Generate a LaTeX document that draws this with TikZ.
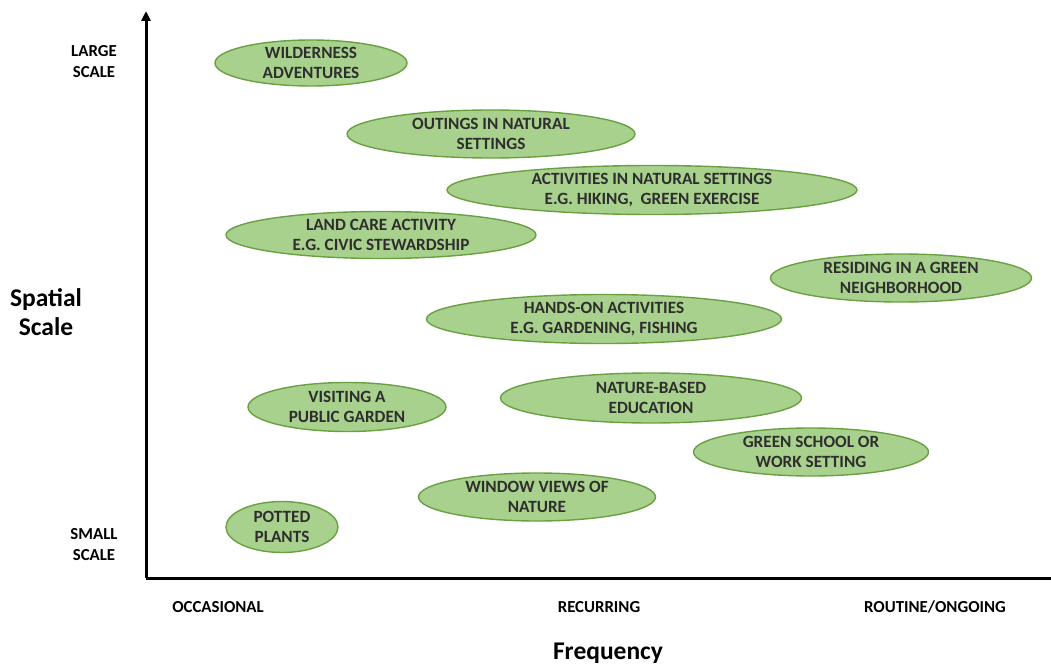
\documentclass[tikz,border=0pt]{standalone}
\usepackage{fontspec}
\setmainfont{Carlito}
\usetikzlibrary{shapes.geometric,arrows.meta}
\definecolor{blobfill}{HTML}{A9D18E}
\definecolor{blobline}{HTML}{6AA042}
\definecolor{blobtext}{HTML}{2E2E2E}
\tikzset{
  blob/.style={ellipse, draw=blobline, fill=blobfill, line width=1.4pt, inner sep=0pt},
  blobtxt/.style={align=center, text=blobtext, font=\fontsize{17.2}{20.5}\selectfont\bfseries, inner sep=0pt},
  axtxt/.style={align=center, text=black, font=\fontsize{16.8}{21}\selectfont\bfseries, inner sep=0pt},
  bigtxt/.style={align=center, text=black, font=\fontsize{25.5}{29}\selectfont\bfseries, inner sep=0pt},
  axis/.style={line width=3pt, black}
}
\begin{document}
\begin{tikzpicture}[x=1pt,y=-1pt]
\useasboundingbox (0,0) rectangle (1051,666);
% axes
\coordinate (O) at (146,578);
\coordinate (top) at (146,11);
\coordinate (right) at (1052,578);
\draw[axis, -{Triangle[length=10pt,width=9pt]}] (O) -- (top);
\draw[axis] (O) -- (right);
% axis labels
\node[axtxt] (large) at (94,62) {LARGE\\SCALE};
\node[axtxt] (small) at (94,545) {SMALL\\SCALE};
\node[bigtxt] (spatial) at (46,312) {Spatial\\Scale};
\node[axtxt] (occ) at (218,607) {OCCASIONAL};
\node[axtxt] (rec) at (599,607) {RECURRING};
\node[axtxt] (rout) at (935,607) {ROUTINE/ONGOING};
\node[bigtxt] (freq) at (608,653) {Frequency};
% ellipses
\node[blob, minimum width=192, minimum height=46] (e1) at (311,63) {};
\node[blobtxt] at (e1) {WILDERNESS\\ADVENTURES};
\node[blob, minimum width=288, minimum height=48] (e2) at (491,134) {};
\node[blobtxt] at (e2) {OUTINGS IN NATURAL\\SETTINGS};
\node[blob, minimum width=410, minimum height=49] (e3) at (652,190) {};
\node[blobtxt] at (e3) {ACTIVITIES IN NATURAL SETTINGS\\E.G. HIKING,\ \ GREEN EXERCISE};
\node[blob, minimum width=310, minimum height=47] (e4) at (381,235) {};
\node[blobtxt] at (e4) {LAND CARE ACTIVITY\\E.G. CIVIC STEWARDSHIP};
\node[blob, minimum width=261, minimum height=48] (e5) at (901,278) {};
\node[blobtxt] at (e5) {RESIDING IN A GREEN\\NEIGHBORHOOD};
\node[blob, minimum width=355, minimum height=49] (e6) at (604,319) {};
\node[blobtxt] at (e6) {HANDS-ON ACTIVITIES\\E.G. GARDENING, FISHING};
\node[blob, minimum width=198, minimum height=49] (e7) at (347,407) {};
\node[blobtxt] at (e7) {VISITING A\\PUBLIC GARDEN};
\node[blob, minimum width=301, minimum height=50] (e8) at (651,398) {};
\node[blobtxt] at (e8) {NATURE-BASED\\EDUCATION};
\node[blob, minimum width=235, minimum height=48] (e9) at (811,452) {};
\node[blobtxt] at (e9) {GREEN SCHOOL OR\\WORK SETTING};
\node[blob, minimum width=237, minimum height=48] (e10) at (537,497) {};
\node[blobtxt] at (e10) {WINDOW VIEWS OF\\NATURE};
\node[blob, minimum width=112, minimum height=51] (e11) at (282,527) {};
\node[blobtxt] at (e11) {POTTED\\PLANTS};
\end{tikzpicture}
\end{document}
